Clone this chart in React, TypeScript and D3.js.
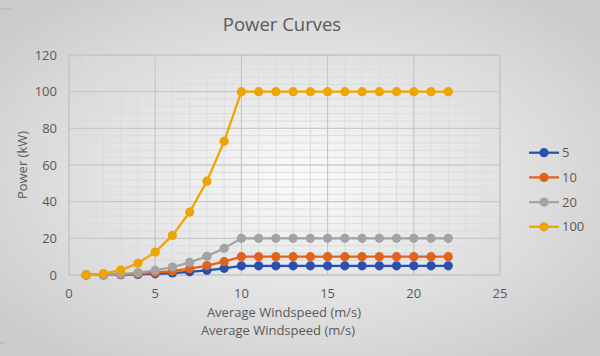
import React from "react";
import * as d3 from "d3";

const windspeed = [1, 2, 3, 4, 5, 6, 7, 8, 9, 10, 11, 12, 13, 14, 15, 16, 17, 18, 19, 20, 21, 22];
const series5 = [0.005, 0.04, 0.14, 0.32, 0.63, 1.08, 1.72, 2.56, 3.65, 5, 5, 5, 5, 5, 5, 5, 5, 5, 5, 5, 5, 5];
const series10 = [0.01, 0.08, 0.27, 0.64, 1.25, 2.16, 3.43, 5.12, 7.29, 10, 10, 10, 10, 10, 10, 10, 10, 10, 10, 10, 10, 10];
const series20 = [0.02, 0.16, 0.54, 1.28, 2.5, 4.32, 6.86, 10.24, 14.58, 20, 20, 20, 20, 20, 20, 20, 20, 20, 20, 20, 20, 20];
const series100 = [0.1, 0.8, 2.7, 6.4, 12.5, 21.6, 34.3, 51.2, 72.9, 100, 100, 100, 100, 100, 100, 100, 100, 100, 100, 100, 100, 100];
const seriesNames = ["5", "10", "20", "100"];
const seriesColors = ["#2850AE", "#DF631C", "#A3A3A3", "#EFA500"];
const xTicks = [0, 5, 10, 15, 20, 25];
const yTicks = [0, 20, 40, 60, 80, 100, 120];
const title = "Power Curves";
const xLabel = "Average Windspeed (m/s)";
const yLabel = "Power (kW)";

export default function App() {
  const W = 600, H = 356;
  const x = d3.scaleLinear().domain([0, 25]).range([69, 500]);
  const y = d3.scaleLinear().domain([0, 120]).range([275, 55]);
  const all = [series5, series10, series20, series100];
  const line = d3.line<number>().x((_, i) => x(windspeed[i])).y((d) => y(d));
  const minorX = d3.range(0, 26, 1);
  const minorY = d3.range(0, 121, 4);
  const font = "'Open Sans', 'Noto Sans', sans-serif";
  const textColor = "#595959";
  return (
    <svg width={W} height={H} style={{ position: "absolute", left: 0, top: 0 }} fontFamily={font}>
      <defs>
        <radialGradient id="bg" cx="50%" cy="50%" r="65%">
          <stop offset="0%" stopColor="#fbfbfb" />
          <stop offset="100%" stopColor="#cbcbcb" />
        </radialGradient>
      </defs>
      <rect x={0} y={0} width={W} height={H} fill="url(#bg)" />
      <line x1={0} x2={12} y1={9} y2={9} stroke="#b0b0b0" strokeWidth={1} />
      <line x1={0} x2={5} y1={343} y2={343} stroke="#b0b0b0" strokeWidth={1} />
      {minorX.map((v) => (
        <line key={"mx" + v} x1={x(v)} x2={x(v)} y1={y(0)} y2={y(120)} stroke="#dcdcdc" strokeWidth={1} />
      ))}
      {minorY.map((v) => (
        <line key={"my" + v} x1={x(0)} x2={x(25)} y1={y(v)} y2={y(v)} stroke="#dcdcdc" strokeWidth={1} />
      ))}
      {xTicks.map((v) => (
        <line key={"Mx" + v} x1={x(v)} x2={x(v)} y1={y(0)} y2={y(120)} stroke="#c4c4c4" strokeWidth={1} />
      ))}
      {yTicks.map((v) => (
        <line key={"My" + v} x1={x(0)} x2={x(25)} y1={y(v)} y2={y(v)} stroke="#c4c4c4" strokeWidth={1} />
      ))}
      <rect x={x(0)} y={y(120)} width={x(25) - x(0)} height={y(0) - y(120)} fill="none" stroke="#c4c4c4" strokeWidth={1} />
      {xTicks.map((v) => (
        <text key={"xt" + v} x={x(v)} y={298} textAnchor="middle" fontSize={13} fill={textColor}>{v}</text>
      ))}
      {yTicks.map((v) => (
        <text key={"yt" + v} x={57} y={y(v) + 4.5} textAnchor="end" fontSize={13} fill={textColor}>{v}</text>
      ))}
      {all.map((s, si) => (
        <g key={"s" + si}>
          <path d={line(s) || ""} fill="none" stroke={seriesColors[si]} strokeWidth={2.25} />
          {s.map((d, i) => (
            <circle key={i} cx={x(windspeed[i])} cy={y(d)} r={4.6} fill={seriesColors[si]} />
          ))}
        </g>
      ))}
      <text x={282} y={31} textAnchor="middle" fontSize={18.5} fill={textColor}>{title}</text>
      <text x={284} y={317} textAnchor="middle" fontSize={13} fill={textColor}>{xLabel}</text>
      <text x={278} y={335} textAnchor="middle" fontSize={13} fill={textColor}>{xLabel}</text>
      <text transform={`translate(27,165) rotate(-90)`} textAnchor="middle" fontSize={13} fill={textColor}>{yLabel}</text>
      {seriesNames.map((n, i) => {
        const ly = 152.7 + i * 24.7;
        return (
          <g key={"lg" + i}>
            <line x1={529} x2={559} y1={ly} y2={ly} stroke={seriesColors[i]} strokeWidth={2.25} />
            <circle cx={544} cy={ly} r={4.6} fill={seriesColors[i]} />
            <text x={562} y={ly + 4.5} fontSize={13} fill={textColor}>{n}</text>
          </g>
        );
      })}
    </svg>
  );
}
